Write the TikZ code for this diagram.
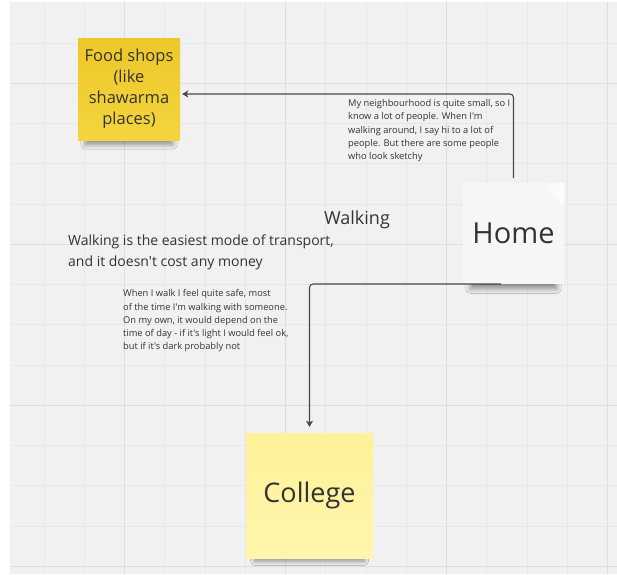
\documentclass[tikz,border=0pt]{standalone}
\usepackage{fontspec}
\setmainfont{Open Sans}[Ligatures=TeXOff]
\usetikzlibrary{arrows.meta,shadows.blur}

\definecolor{canvas}{RGB}{241,241,241}
\definecolor{gridminor}{RGB}{231,231,231}
\definecolor{gridmajor}{RGB}{222,222,222}
\definecolor{ink}{RGB}{51,51,51}
\definecolor{wire}{RGB}{72,72,72}
\definecolor{goldtop}{RGB}{236,199,40}
\definecolor{goldbot}{RGB}{244,213,62}
\definecolor{paletop}{RGB}{254,241,152}
\definecolor{palebot}{RGB}{255,246,172}
\definecolor{paper}{RGB}{245,246,248}

\tikzset{
  sticky/.style={inner sep=0pt, align=center, text=ink,
    blur shadow={shadow xshift=0pt, shadow yshift=-14pt, shadow scale=0.86,
                 shadow opacity=40, shadow blur radius=5pt,
                 shadow blur steps=12}},
  note/.style={inner sep=0pt, anchor=north west, align=left, text=ink,
    font=\fontsize{9.3}{13.2}\selectfont},
  conn/.style={draw=wire, line width=1.1pt, rounded corners=3.5pt,
    -{Stealth[length=6pt,width=7pt,inset=1.5pt]}},
}

\begin{document}
\begin{tikzpicture}[x=1pt,y=-1pt]
  \useasboundingbox (0,0) rectangle (617,574);
  \fill[white] (0,0) rectangle (617,574);

  % board with its grid
  \fill[canvas] (10,2) rectangle (617,574);
  \foreach \k in {0,...,14}{
    \pgfmathsetmacro{\gx}{44+40.25*\k}
    \draw[gridminor, line width=1pt] (\gx,2) -- (\gx,574);
  }
  \foreach \k in {0,...,13}{
    \pgfmathsetmacro{\gy}{43+40.25*\k}
    \draw[gridminor, line width=1pt] (10,\gy) -- (617,\gy);
  }
  \foreach \k in {2,6,10,14}{
    \pgfmathsetmacro{\gx}{44+40.25*\k}
    \draw[gridmajor, line width=1.2pt] (\gx,2) -- (\gx,574);
  }
  \foreach \k in {1,5,9,13}{
    \pgfmathsetmacro{\gy}{43+40.25*\k}
    \draw[gridmajor, line width=1.2pt] (10,\gy) -- (617,\gy);
  }

  % free ends of the connectors
  \coordinate (homeout) at (501,284);
  \coordinate (hometop) at (513.5,178);

  % sticky notes
  \node[sticky, minimum width=102pt, minimum height=102pt,
        top color=goldtop, bottom color=goldbot,
        font=\fontsize{16.5}{21}\selectfont] (food) at (129,89)
        {Food shops\\(like\\shawarma\\places)};
  \node[sticky, minimum width=101pt, minimum height=101pt, fill=paper,
        font=\fontsize{29}{34}\selectfont] (home) at (513.5,233.5) {Home};
  % folded corner highlight
  \shade[left color=paper, right color=white, opacity=0.8]
    ([xshift=-24pt]home.north east) -- (home.north east)
    -- ([yshift=-24pt]home.north east) -- cycle;
  \node[sticky, minimum width=127pt, minimum height=125pt,
        top color=paletop, bottom color=palebot,
        font=\fontsize{27}{32}\selectfont] (college) at (309.5,495.5) {College};

  \draw[conn] (hometop) |- ([xshift=2pt,yshift=-5pt]food.east);
  \draw[conn] (homeout) -| ([yshift=6pt]college.north);

  % labels
  \node[inner sep=0pt, text=ink, font=\fontsize{18}{22}\selectfont, anchor=base]
    (title) at (357,224.3) {Walking};
  \node[inner sep=0pt, anchor=north west, align=left, text=ink,
        font=\fontsize{14}{21}\selectfont] (desc) at (68,235)
    {Walking is the easiest mode of transport,\\and it doesn't cost any money};
  \node[note] (neigh) at (348,99.5)
    {My neighbourhood is quite small, so I\\know a lot of people. When I'm\\walking around, I say hi to a lot of\\people. But there are some people\\who look sketchy};
  \node[note] (safe) at (123,289.5)
    {When I walk I feel quite safe, most\\of the time I'm walking with someone.\\On my own, it would depend on the\\time of day - if it's light I would feel ok,\\but if it's dark probably not};
\end{tikzpicture}
\end{document}
